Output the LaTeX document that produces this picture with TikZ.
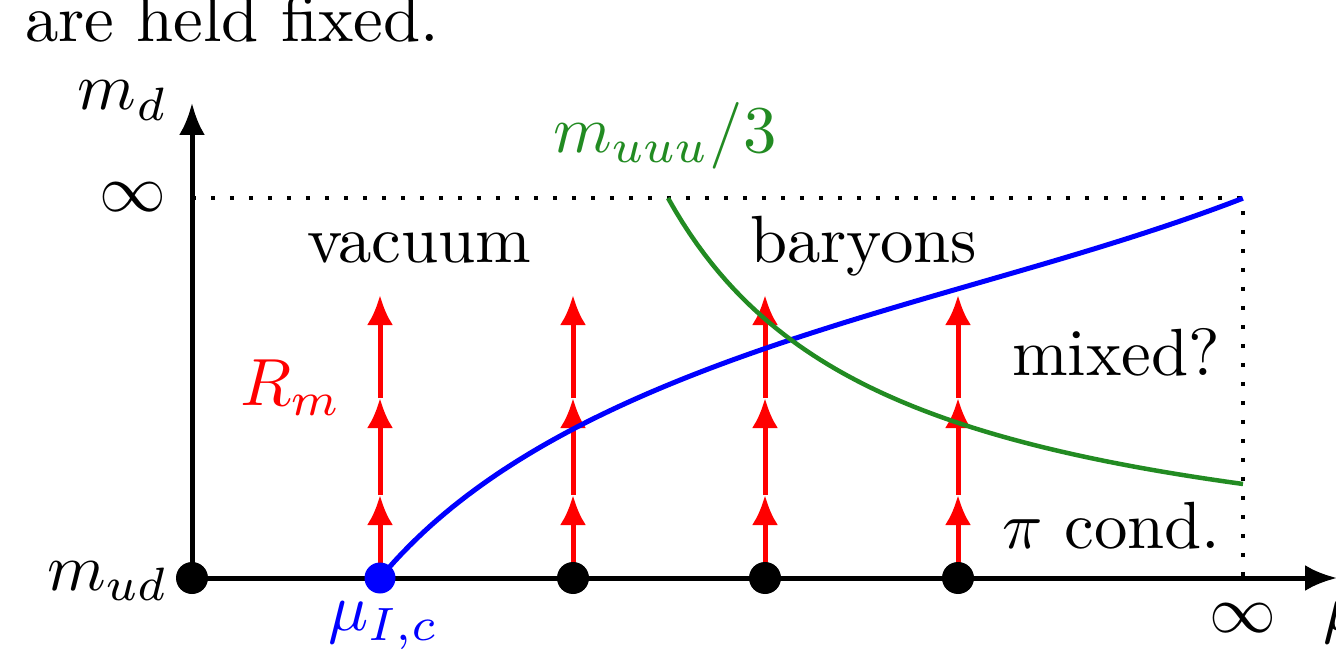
\documentclass[tikz,border=0pt]{standalone}
\usepackage{fontspec}
\usetikzlibrary{arrows.meta}
\definecolor{mygreen}{RGB}{34,139,34}
\begin{document}
\begin{tikzpicture}[
  every node/.style={inner sep=0pt, outer sep=0pt},
  lbl/.style={scale=1.9},
  txt/.style={lbl, anchor=base west},
  axis/.style={line width=0.05cm, -{Latex[length=0.32cm,width=0.26cm]}},
  dotline/.style={line width=0.04cm, dash pattern=on 0.04cm off 0.15cm},
  redarr/.style={red, line width=0.05cm, -{Latex[length=0.30cm,width=0.26cm]}},
  blk/.style={circle, fill=black, minimum size=0.32cm},
  bluedot/.style={circle, fill=blue, minimum size=0.31cm},
  curveb/.style={blue, line width=0.05cm},
  curveg/.style={mygreen, line width=0.045cm},
]
\useasboundingbox (0,0) rectangle (13.36,6.49);
\clip (0,0) rectangle (13.36,6.49);

% coordinates
\coordinate (O) at (1.92,0.71);
\coordinate (ytop) at (1.92,5.46);
\coordinate (xend) at (13.37,0.71);
\coordinate (inftopL) at (1.92,4.51);
\coordinate (corner) at (12.43,4.51);
\coordinate (infbot) at (12.43,0.71);

% dotted box
\draw[dotline] (inftopL) -- (corner) -- (infbot);

% axes
\draw[axis] (O) -- (ytop);
\draw[axis] (O) -- (xend);

% red arrows
\foreach \i/\x in {1/3.80,2/5.73,3/7.65,4/9.58}{
  \coordinate (s\i) at (\x,0.71);
  \coordinate (a\i) at (\x,1.54);
  \coordinate (b\i) at (\x,2.51);
  \coordinate (c\i) at (\x,3.54);
  \draw[redarr] (s\i) -- (a\i);
  \draw[redarr] (a\i) -- (b\i);
  \draw[redarr] (b\i) -- (c\i);
}

% blue curve
\draw[curveb] plot[domain=0:8.63, samples=120]
  ({3.80+\x}, {0.71+1.8*ln(1+\x/1.5)+0.36*(\x/8.63)^5});

% green curve
\draw[curveg] plot[domain=6.68:12.43, samples=80] (\x, {6.49-(5.934-8.6981/(\x-4.48))});

% dots
\node[blk] (d0) at (O) {};
\node[bluedot] (dc) at (s1) {};
\node[blk] (d2) at (s2) {};
\node[blk] (d3) at (s3) {};
\node[blk] (d4) at (s4) {};

% labels
\node[txt] (cap) at (0.25,6.07) {are held fixed.};
\node[txt] (md) at (0.78,5.39) {$m_d$};
\node[lbl] (infL) at (1.33,4.52) {$\infty$};
\node[txt] (mud) at (0.47,0.59) {$m_{ud}$};
\node[txt, red] (Rm) at (2.40,2.44) {$R_m$};
\node[txt] (vac) at (3.07,3.87) {vacuum};
\node[txt] (bar) at (7.50,3.87) {baryons};
\node[txt] (mix) at (10.12,2.74) {mixed?};
\node[txt] (pic) at (10.02,1.01) {$\pi$ cond.};
\node[txt, mygreen] (muuu) at (5.53,4.97) {$m_{uuu}/3$};
\node[txt, blue] (muc) at (3.28,0.19) {$\mu_{I,c}$};
\node[lbl] (infB) at (12.43,0.31) {$\infty$};
\node[txt] (mu) at (13.23,0.19) {$\mu$};
\end{tikzpicture}
\end{document}
